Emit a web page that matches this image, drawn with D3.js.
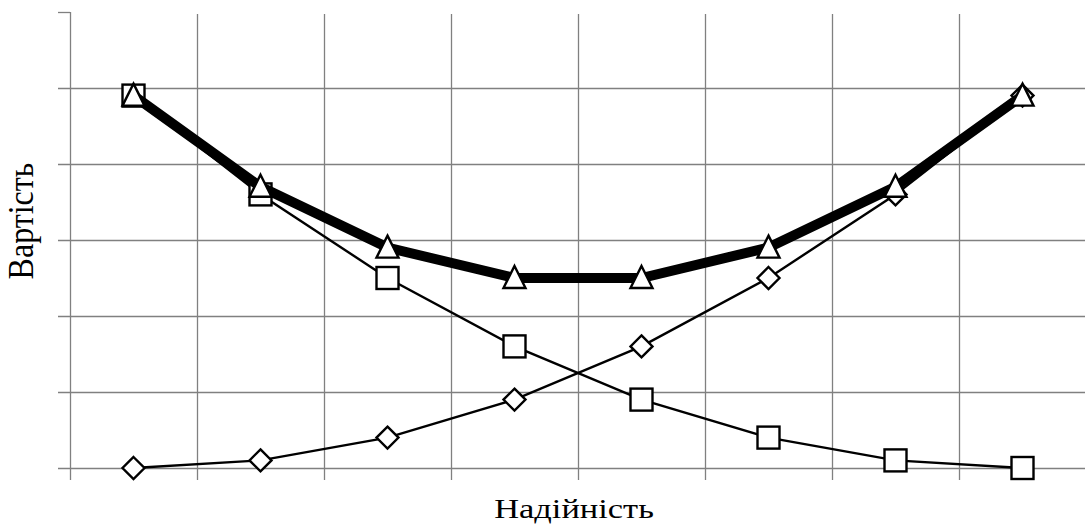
<!DOCTYPE html>
<html>
<head>
<meta charset="utf-8">
<script src="https://cdn.jsdelivr.net/npm/d3@7"></script>
<style>
  body { margin: 0; background: #fff; }
  svg { display: block; }
  text { font-family: "Liberation Serif", "DejaVu Serif", serif; }
</style>
</head>
<body>
<div id="chart"></div>
<script>
// data
const categories = ["1", "2", "3", "4", "5", "6", "7", "8"];
const yTicks = [0, 1, 2, 3, 4, 5, 6];
const failureCost = [4.9, 3.6, 2.5, 1.6, 0.9, 0.4, 0.1, 0.0];     // squares
const reliabilityCost = [0.0, 0.1, 0.4, 0.9, 1.6, 2.5, 3.6, 4.9]; // diamonds
const totalCost = [4.9, 3.7, 2.9, 2.5, 2.5, 2.9, 3.7, 4.9];       // triangles

const width = 1085, height = 525;
const margin = { top: 12, left: 70, bottom: 57 };
const plotRight = 1086;

const svg = d3.select("#chart").append("svg")
  .attr("width", width).attr("height", height);

const x = d3.scaleBand().domain(categories).range([margin.left, plotRight]);
const y = d3.scaleLinear().domain([0, 6]).range([height - margin.bottom, margin.top]);

const gridColor = "#808080";

// horizontal gridlines with little ticks left of the axis
svg.append("g")
  .selectAll("line")
  .data(yTicks)
  .join("line")
  .attr("x1", margin.left - 12)
  .attr("x2", plotRight)
  .attr("y1", (d) => Math.round(y(d)) + 0.5)
  .attr("y2", (d) => Math.round(y(d)) + 0.5)
  .attr("stroke", gridColor)
  .attr("stroke-width", (d) => (d === 6 ? 0 : 1.3));

// top tick of the axis
svg.append("line")
  .attr("x1", margin.left - 12).attr("x2", margin.left)
  .attr("y1", Math.round(y(6)) + 0.5).attr("y2", Math.round(y(6)) + 0.5)
  .attr("stroke", gridColor).attr("stroke-width", 1.3);

// vertical gridlines at band edges, running a little below the baseline
const edges = categories.map((c) => x(c)).concat([plotRight]);
svg.append("g")
  .selectAll("line")
  .data(edges)
  .join("line")
  .attr("x1", (d) => Math.round(d) + 0.5)
  .attr("x2", (d) => Math.round(d) + 0.5)
  .attr("y1", (d, i) => (i === 0 ? y(6) : y(6) + 2))
  .attr("y2", y(0) + 12)
  .attr("stroke", gridColor)
  .attr("stroke-width", 1.3);

const cx = (i) => x(categories[i]) + x.bandwidth() / 2;

const line = d3.line()
  .x((d, i) => cx(i))
  .y((d) => y(d));

// series lines
svg.append("path").datum(failureCost)
  .attr("d", line).attr("fill", "none")
  .attr("stroke", "#000").attr("stroke-width", 2.4);

svg.append("path").datum(reliabilityCost)
  .attr("d", line).attr("fill", "none")
  .attr("stroke", "#000").attr("stroke-width", 2.4);

// markers
svg.append("g")
  .selectAll("rect")
  .data(failureCost)
  .join("rect")
  .attr("x", (d, i) => cx(i) - 11)
  .attr("y", (d) => y(d) - 11)
  .attr("width", 22).attr("height", 22)
  .attr("fill", "#fff").attr("stroke", "#000").attr("stroke-width", 2.4);

svg.append("g")
  .selectAll("path")
  .data(reliabilityCost)
  .join("path")
  .attr("d", (d, i) => {
    const px = cx(i), py = y(d), r = 11;
    return `M${px},${py - r}L${px + r},${py}L${px},${py + r}L${px - r},${py}Z`;
  })
  .attr("fill", "#fff").attr("stroke", "#000").attr("stroke-width", 2.4);

svg.append("path").datum(totalCost)
  .attr("d", line).attr("fill", "none")
  .attr("stroke", "#000").attr("stroke-width", 10)
  .attr("stroke-linejoin", "miter");

svg.append("g")
  .selectAll("path")
  .data(totalCost)
  .join("path")
  .attr("d", (d, i) => {
    const px = cx(i), py = y(d);
    return `M${px},${py - 12}L${px + 11},${py + 10}L${px - 11},${py + 10}Z`;
  })
  .attr("fill", "#fff").attr("stroke", "#000").attr("stroke-width", 2.4)
  .attr("stroke-linejoin", "miter");

// axis titles (the original picture is stretched horizontally a bit)
svg.append("text")
  .attr("transform", "translate(574, 518) scale(1.23, 1)")
  .attr("text-anchor", "middle")
  .attr("font-size", 28)
  .text("Надійність");

svg.append("text")
  .attr("transform", "translate(33, 221) scale(1.12, 1) rotate(-90)")
  .attr("text-anchor", "middle")
  .attr("font-size", 32)
  .text("Вартість");
</script>
</body>
</html>
